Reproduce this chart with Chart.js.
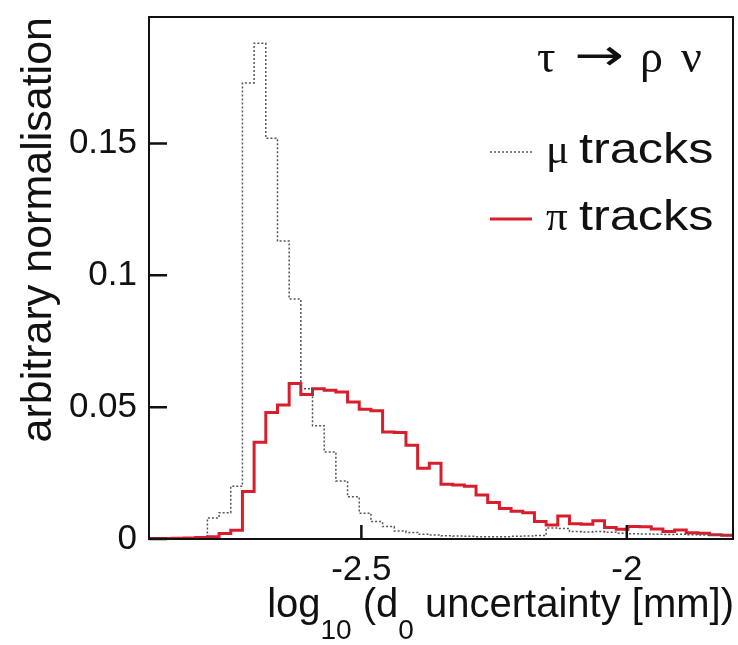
<!DOCTYPE html>
<html>
<head>
<meta charset="utf-8">
<script src="https://cdn.jsdelivr.net/npm/chart.js@4.4.1/dist/chart.umd.min.js"></script>
<style>
    html, body { margin: 0; padding: 0; background: #fff; }
    #wrap { width: 738px; height: 645px; }
</style>
</head>
<body>
<div id="wrap"><canvas id="d0Chart" width="738" height="645"></canvas></div>
<script>
// Histogram binning: 50 bins of log10(d0 uncertainty)
const binLow = -2.9;
const binWidth = 0.022;

// Bin contents, normalised
const muonValues = [
    0, 0, 0, 0, 0, 0.008, 0.010, 0.020, 0.173, 0.188,
    0.152, 0.113, 0.091, 0.057, 0.043, 0.033, 0.022, 0.016, 0.0098, 0.0066,
    0.0047, 0.0030, 0.0025, 0.0018, 0.0015, 0.0012, 0.0011, 0.0010, 0.0009, 0.0009,
    0.0009, 0.0010, 0.0011, 0.0013, 0.0042, 0.0040, 0.0028, 0.0027, 0.0028, 0.0026,
    0.0022, 0.0020, 0.0019, 0.0018, 0.0017, 0.0018, 0.0016, 0.0015, 0.0014, 0.0012
];
const pionValues = [
    0.0002, 0.0002, 0.0003, 0.0004, 0.0006, 0.0009, 0.0021, 0.0033, 0.018, 0.0367,
    0.048, 0.0508, 0.0590, 0.0548, 0.0570, 0.0564, 0.0558, 0.0520, 0.0492, 0.0486,
    0.0406, 0.0404, 0.0356, 0.0268, 0.0287, 0.0208, 0.0205, 0.0200, 0.0167, 0.0138,
    0.0116, 0.0105, 0.0100, 0.0066, 0.0053, 0.0087, 0.0058, 0.0056, 0.0069, 0.0044,
    0.0037, 0.0047, 0.0046, 0.0038, 0.0028, 0.0034, 0.0024, 0.0022, 0.0016, 0.0014
];

// Axis ticks
const xTickValues = [-2.5, -2];
const xTickLabels = ['-2.5', '-2'];
const yTickValues = [0, 0.05, 0.1, 0.15];
const yTickLabels = ['0', '0.05', '0.1', '0.15'];

const xMin = -2.9, xMax = -1.8;
const yMin = 0, yMax = 0.198;

const SANS = '"Liberation Sans", Arial, sans-serif';
const SERIF = '"Liberation Serif", "DejaVu Serif", serif';

// Turn bin contents into step points (left edge of every bin + closing edge)
function histPoints(values) {
    const pts = values.map((v, i) => ({ x: binLow + i * binWidth, y: v }));
    pts.push({ x: binLow + values.length * binWidth, y: values[values.length - 1] });
    return pts;
}

// draw text stretched horizontally, anchored at its left edge
function wideText(ctx, txt, x, y, sx) {
    ctx.save();
    ctx.translate(x, y);
    ctx.scale(sx, 1);
    ctx.textAlign = 'left';
    ctx.fillText(txt, 0, 0);
    ctx.restore();
}

// Frame, inward ticks, legend and x title (with subscripts)
const rootStyle = {
    id: 'rootStyle',
    afterDraw(chart) {
        const { ctx, chartArea: a, scales } = chart;
        ctx.save();

        // frame
        ctx.strokeStyle = '#111';
        ctx.lineWidth = 2;
        ctx.strokeRect(a.left, a.top, a.right - a.left, a.bottom - a.top);

        // inward ticks
        ctx.lineWidth = 2.5;
        ctx.beginPath();
        yTickValues.forEach(v => {
            const y = scales.y.getPixelForValue(v);
            ctx.moveTo(a.left, y);
            ctx.lineTo(a.left + 18, y);
        });
        xTickValues.forEach(v => {
            const x = scales.x.getPixelForValue(v);
            ctx.moveTo(x, a.bottom);
            ctx.lineTo(x, a.bottom - 14);
        });
        ctx.stroke();

        // decay label: tau -> rho nu
        ctx.fillStyle = '#111';
        ctx.textBaseline = 'alphabetic';
        ctx.textAlign = 'left';
        ctx.font = '46px ' + SERIF;
        ctx.fillText('\u03c4', a.left + 388, 72);
        ctx.font = '44px "DejaVu Sans", sans-serif';
        wideText(ctx, '\u2192', a.left + 425, 70, 1.35);
        ctx.font = '46px ' + SERIF;
        ctx.fillText('\u03c1', a.left + 491, 72);
        ctx.fillText('\u03bd', a.left + 532, 72);

        // legend
        const entries = [
            { sym: '\u03bc', y: 163, color: '#555', width: 1.5, dash: [2, 2] },
            { sym: '\u03c0', y: 230, color: '#d81e2c', width: 3, dash: [] }
        ];
        entries.forEach(e => {
            ctx.fillStyle = '#111';
            ctx.textAlign = 'left';
            ctx.font = '43px ' + SERIF;
            ctx.fillText(e.sym, a.left + 397, e.y);
            ctx.font = '42px ' + SANS;
            wideText(ctx, 'tracks', a.left + 430, e.y, 1.2);

            ctx.strokeStyle = e.color;
            ctx.lineWidth = e.width;
            ctx.setLineDash(e.dash);
            ctx.beginPath();
            ctx.moveTo(a.left + 341, e.y - 11);
            ctx.lineTo(a.left + 383, e.y - 11);
            ctx.stroke();
            ctx.setLineDash([]);
        });

        // x axis title with subscripts
        const size = 40, subSize = 28, subDrop = 22;
        const parts = [
            { t: 'log', sub: false }, { t: '10', sub: true },
            { t: ' (d', sub: false }, { t: '0', sub: true },
            { t: ' uncertainty [mm])', sub: false }
        ];
        let total = 0;
        parts.forEach(p => {
            ctx.font = (p.sub ? subSize : size) + 'px ' + SANS;
            p.w = ctx.measureText(p.t).width;
            total += p.w;
        });
        let x = a.right + 1 - total;
        const base = 617;
        ctx.textAlign = 'left';
        ctx.fillStyle = '#111';
        parts.forEach(p => {
            ctx.font = (p.sub ? subSize : size) + 'px ' + SANS;
            ctx.fillText(p.t, x, p.sub ? base + subDrop : base);
            x += p.w;
        });

        ctx.restore();
    }
};

new Chart(document.getElementById('d0Chart'), {
    type: 'line',
    data: {
        datasets: [
            {
                label: '\u03bc tracks',
                data: histPoints(muonValues),
                stepped: 'before',
                borderColor: '#555',
                borderWidth: 1.5,
                borderDash: [2, 2],
                pointRadius: 0,
                fill: false
            },
            {
                label: '\u03c0 tracks',
                data: histPoints(pionValues),
                stepped: 'before',
                borderColor: '#d81e2c',
                borderWidth: 3,
                pointRadius: 0,
                fill: false
            }
        ]
    },
    options: {
        responsive: false,
        animation: false,
        layout: { padding: { left: 0, right: 5, top: 17, bottom: 0 } },
        plugins: {
            legend: { display: false },
            tooltip: { enabled: false },
            title: { display: false }
        },
        scales: {
            x: {
                type: 'linear',
                min: xMin,
                max: xMax,
                grid: { display: false, drawTicks: false },
                border: { display: false },
                afterBuildTicks: (scale) => {
                    scale.ticks = xTickValues.map(v => ({ value: v }));
                },
                afterFit: (scale) => {
                    scale.height = 106;
                    scale.paddingLeft = 0;
                    scale.paddingRight = 0;
                },
                ticks: {
                    autoSkip: false,
                    maxRotation: 0,
                    padding: 10,
                    color: '#111',
                    font: { family: SANS, size: 35 },
                    callback: (v) => xTickLabels[xTickValues.indexOf(v)]
                }
            },
            y: {
                type: 'linear',
                min: yMin,
                max: yMax,
                grid: { display: false, drawTicks: false },
                border: { display: false },
                afterBuildTicks: (scale) => {
                    scale.ticks = yTickValues.map(v => ({ value: v }));
                },
                afterFit: (scale) => {
                    scale.width = 149;
                    scale.paddingTop = 0;
                    scale.paddingBottom = 0;
                },
                ticks: {
                    padding: 12,
                    color: '#111',
                    font: { family: SANS, size: 35 },
                    callback: (v) => yTickLabels[yTickValues.indexOf(v)]
                },
                title: {
                    display: true,
                    text: 'arbitrary normalisation',
                    align: 'end',
                    color: '#111',
                    font: { family: SANS, size: 43 },
                    padding: { top: 13, bottom: 0 }
                }
            }
        }
    },
    plugins: [rootStyle]
});
</script>
</body>
</html>
